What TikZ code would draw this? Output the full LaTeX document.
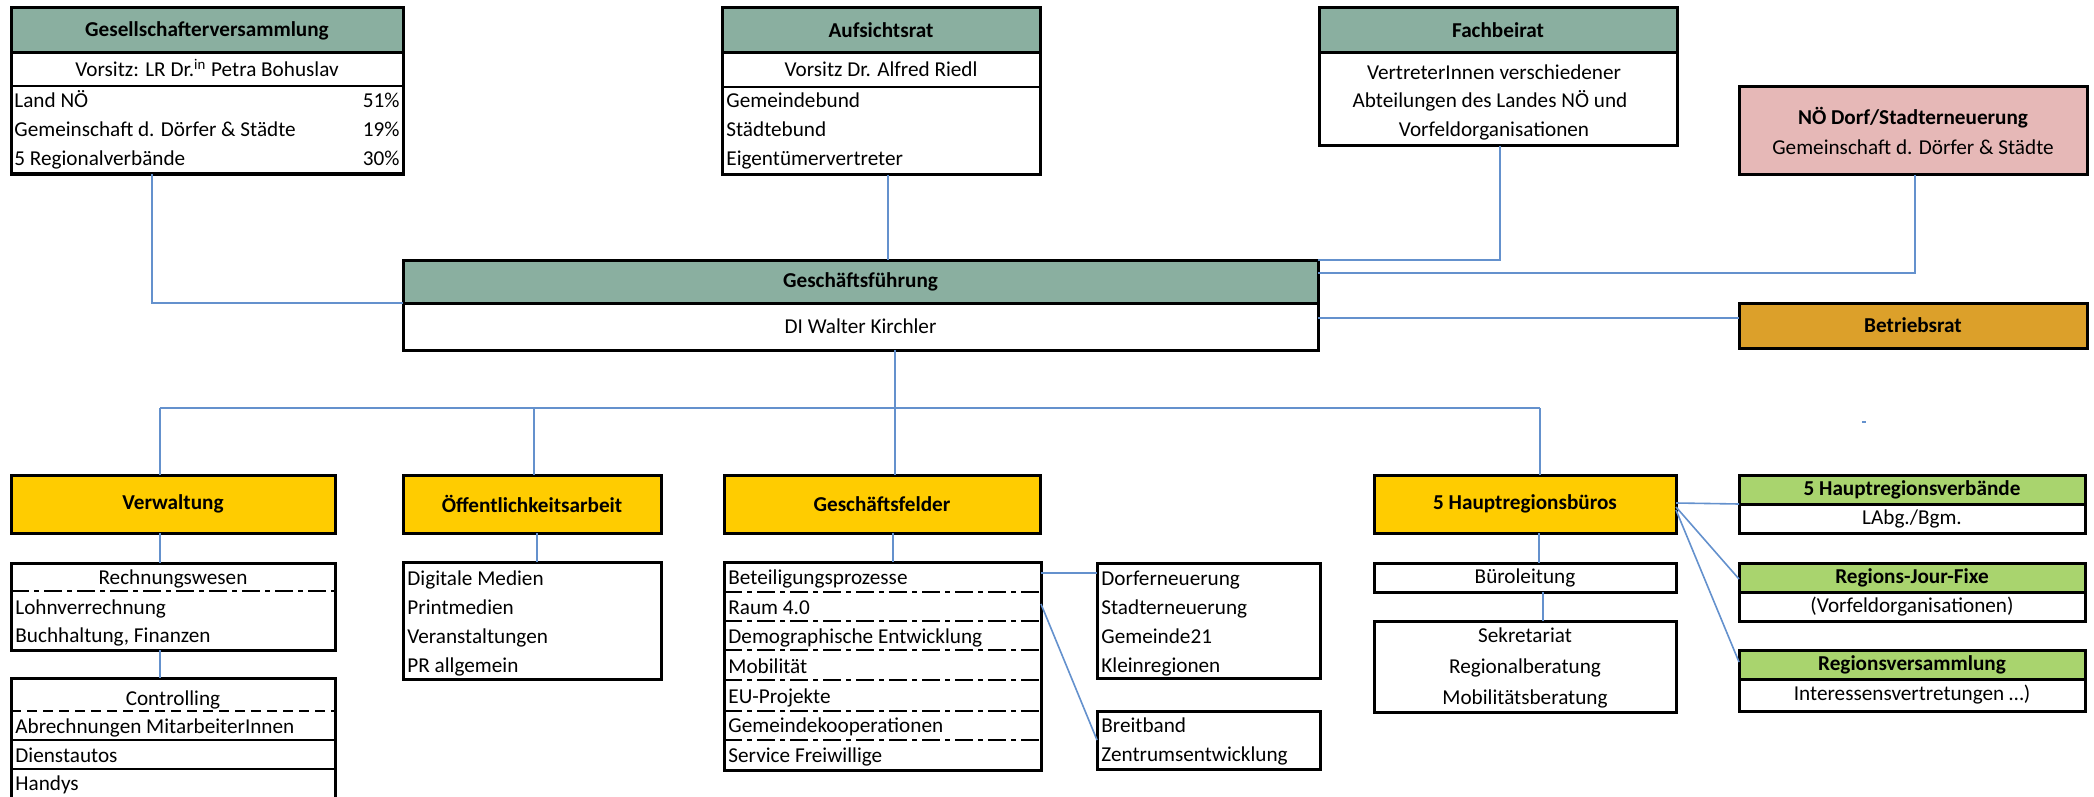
\documentclass[tikz,border=0pt]{standalone}
\usepackage{fontspec}
\setmainfont{Carlito}
\usetikzlibrary{calc}

\definecolor{headgreen}{RGB}{138,175,160}
\definecolor{rosebox}{RGB}{230,184,183}
\definecolor{amberbox}{RGB}{220,160,42}
\definecolor{yellowbox}{RGB}{255,204,0}
\definecolor{limebox}{RGB}{169,212,110}
\definecolor{linkblue}{RGB}{100,145,205}

\tikzset{
  sz/.style 2 args={minimum width=#1*0.5pt, minimum height=#2*0.5pt},
  box/.style={draw, line width=1.5pt, anchor=north west, inner sep=0pt, outer sep=0pt},
  head/.style={box, fill=headgreen, font=\fontsize{10.6}{15}\selectfont\bfseries},
  unit/.style={box, fill=yellowbox, font=\fontsize{10.6}{15}\selectfont\bfseries},
  lime/.style={box, fill=limebox, font=\fontsize{10.6}{15}\selectfont\bfseries},
  link/.style={draw=linkblue, line width=0.8pt},
  sep/.style={line width=1pt},
  dashdot/.style={line width=1.2pt, dash pattern=on 9pt off 2.5pt on 2.5pt off 2.5pt},
  lft/.style={inner sep=0pt, anchor=base west},
  rgt/.style={inner sep=0pt, anchor=base east},
  mid/.style={inner sep=0pt, anchor=base}
}

\begin{document}
\begin{tikzpicture}[x=0.5pt, y=-0.5pt, font=\fontsize{10.6}{15}\selectfont]
  \useasboundingbox (0,0) rectangle (2094,797);

  % top row
  \node[head, sz={392}{45}] (gvhead) at (11,8) {Gesellschafterversammlung};
  \node[box, sz={392}{121}] (gv) at (11,53) {};
  \draw[sep] (11,86) -- (403,86);
  \node[mid] at (207,77) {Vorsitz: LR Dr.\textsuperscript{in} Petra Bohuslav};
  \node[lft] at (14,108) {Land NÖ};
  \node[lft] at (14,137) {Gemeinschaft d. Dörfer \& Städte};
  \node[lft] at (14,166) {5 Regionalverbände};
  \node[rgt] at (400,108) {51\%};
  \node[rgt] at (400,137) {19\%};
  \node[rgt] at (400,166) {30\%};

  \node[head, sz={318}{45}] (arhead) at (722,8) {Aufsichtsrat};
  \node[box, sz={318}{122}] (ar) at (722,53) {};
  \draw[sep] (722,87) -- (1040,87);
  \node[mid] at (881,77) {Vorsitz Dr. Alfred Riedl};
  \node[lft] at (726,108) {Gemeindebund};
  \node[lft] at (726,137) {Städtebund};
  \node[lft] at (726,166) {Eigentümervertreter};

  \node[head, sz={358}{45}] (fbhead) at (1319,8) {Fachbeirat};
  \node[box, sz={358}{93}] (fb) at (1319,53) {};
  \node[mid] at (1494,80) {VertreterInnen verschiedener};
  \node[mid] at (1490,108) {Abteilungen des Landes NÖ und};
  \node[mid] at (1494,137) {Vorfeldorganisationen};

  \node[box, fill=rosebox, sz={348}{88}, align=center] (noe) at (1739,87)
    {\textbf{NÖ Dorf/Stadterneuerung}\\Gemeinschaft d. Dörfer \& Städte};

  % management
  \node[head, sz={915}{43}] (gfhead) at (403,260) {Geschäftsführung};
  \node[box, sz={915}{47}] (gf) at (403,303) {DI Walter Kirchler};
  \node[box, fill=amberbox, sz={348}{45}, font=\fontsize{10.6}{15}\selectfont\bfseries] (br) at (1739,303) {Betriebsrat};

  % departments
  \node[unit, sz={324}{58}] (verw) at (11,475) {Verwaltung};
  \node[unit, sz={258}{58}] (oeff) at (403,475) {Öffentlichkeitsarbeit};
  \node[unit, sz={316}{58}] (gfeld) at (724,475) {Geschäftsfelder};
  \node[unit, sz={302}{58}] (hrb) at (1374,475) {5 Hauptregionsbüros};

  % Verwaltung
  \node[box, sz={324}{87}] (rw) at (11,563) {};
  \draw[dashdot] (11,591) -- (335,591);
  \node[mid] at (173,584) {Rechnungswesen};
  \node[lft] at (15,614) {Lohnverrechnung};
  \node[lft] at (15,642) {Buchhaltung, Finanzen};

  \node[box, sz={324}{150}] (ctrl) at (11,678) {};
  \draw[line width=1.2pt, dash pattern=on 5pt off 3pt] (11,711) -- (335,711);
  \draw[sep] (11,740) -- (335,740);
  \draw[sep] (11,769) -- (335,769);
  \node[mid] at (173,705) {Controlling};
  \node[lft] at (15,733) {Abrechnungen MitarbeiterInnen};
  \node[lft] at (15,762) {Dienstautos};
  \node[lft] at (15,790) {Handys};

  % Oeffentlichkeitsarbeit
  \node[box, sz={258}{117}] (oeffl) at (403,562) {};
  \node[lft] at (407,585) {Digitale Medien};
  \node[lft] at (407,614) {Printmedien};
  \node[lft] at (407,643) {Veranstaltungen};
  \node[lft] at (407,672) {PR allgemein};

  % Geschaeftsfelder
  \node[box, sz={317}{208}] (gfl) at (724,562) {};
  \draw[dashdot] (724,592) -- (1041,592);
  \draw[dashdot] (724,621) -- (1041,621);
  \draw[dashdot] (724,650) -- (1041,650);
  \draw[dashdot] (724,680) -- (1041,680);
  \draw[dashdot] (724,711) -- (1041,711);
  \draw[dashdot] (724,740) -- (1041,740);
  \node[lft] at (728,584) {Beteiligungsprozesse};
  \node[lft] at (728,614) {Raum 4.0};
  \node[lft] at (728,643) {Demographische Entwicklung};
  \node[lft] at (728,673) {Mobilität};
  \node[lft] at (728,703) {EU-Projekte};
  \node[lft] at (728,732) {Gemeindekooperationen};
  \node[lft] at (728,762) {Service Freiwillige};

  \node[box, sz={223}{115}] (dorf) at (1097,563) {};
  \node[lft] at (1101,585) {Dorferneuerung};
  \node[lft] at (1101,614) {Stadterneuerung};
  \node[lft] at (1101,643) {Gemeinde21};
  \node[lft] at (1101,672) {Kleinregionen};

  \node[box, sz={223}{58}] (breit) at (1097,711) {};
  \node[lft] at (1101,732) {Breitband};
  \node[lft] at (1101,761) {Zentrumsentwicklung};

  % Hauptregionsbueros
  \node[box, sz={302}{29}] (buero) at (1374,563) {Büroleitung};
  \node[box, sz={302}{91}] (sek) at (1374,621) {};
  \node[mid] at (1525,642) {Sekretariat};
  \node[mid] at (1525,673) {Regionalberatung};
  \node[mid] at (1525,704) {Mobilitätsberatung};

  \node[lime, sz={346}{29}] (hrvhead) at (1739,475) {5 Hauptregionsverbände};
  \node[box, sz={346}{29}] (hrv) at (1739,504) {LAbg./Bgm.};
  \node[lime, sz={346}{29}] (rjfhead) at (1739,563) {Regions-Jour-Fixe};
  \node[box, sz={346}{29}] (rjf) at (1739,592) {(Vorfeldorganisationen)};
  \node[lime, sz={346}{29}] (rvhead) at (1739,650) {Regionsversammlung};
  \node[box, sz={346}{32}] (rv) at (1739,679) {Interessensvertretungen …)};

  % connectors
  \draw[link] ($(gv.south west)+(141,0)$) |- (gfhead.south west);
  \coordinate (arfoot) at ($(ar.south west)+(166,0)$);
  \draw[link] (arfoot) -- (arfoot |- gfhead.north);
  \draw[link] ($(fb.south west)+(181,0)$) |- (gfhead.north east);
  \draw[link] ($(noe.south)+(2,0)$) |- ($(gfhead.north east)+(0,13)$);
  \coordinate (brin) at ($(br.north west)+(0,15)$);
  \draw[link] (brin -| gf.east) -- (brin);

  \coordinate (bus) at ($(gf.south west)+(492,58)$);
  \coordinate (verwtop) at ($(verw.north west)+(149,0)$);
  \coordinate (oefftop) at ($(oeff.north west)+(131,0)$);
  \coordinate (gfeldtop) at ($(gfeld.north west)+(171,0)$);
  \coordinate (hrbtop) at ($(hrb.north west)+(166,0)$);
  \draw[link] (bus |- gf.south) -- (bus);
  \draw[link] (verwtop |- bus) -- (hrbtop |- bus);
  \draw[link] (verwtop |- bus) -- (verwtop);
  \draw[link] (oefftop |- bus) -- (oefftop);
  \draw[link] (gfeldtop |- bus) -- (gfeldtop);
  \draw[link] (hrbtop |- bus) -- (hrbtop);
  \fill[linkblue] (1862,421) rectangle (1866,423);

  \coordinate (verwfoot) at ($(verw.south west)+(149,0)$);
  \draw[link] (verwfoot) -- (verwfoot |- rw.north);
  \coordinate (rwfoot) at ($(rw.south west)+(149,0)$);
  \draw[link] (rwfoot) -- (rwfoot |- ctrl.north);
  \coordinate (oefffoot) at ($(oeff.south west)+(134,0)$);
  \draw[link] (oefffoot) -- (oefffoot |- oeffl.north);
  \coordinate (gfeldfoot) at ($(gfeld.south west)+(169,0)$);
  \draw[link] (gfeldfoot) -- (gfeldfoot |- gfl.north);
  \draw[link] ($(gfl.north east)+(0,11)$) -- ($(dorf.north west)+(0,10)$);
  \draw[link] ($(gfl.north east)+(0,42)$) -- ($(breit.north west)+(0,29)$);

  \coordinate (hrbfoot) at ($(hrb.south west)+(165,0)$);
  \draw[link] (hrbfoot) -- (hrbfoot |- buero.north);
  \coordinate (buerofoot) at ($(buero.south west)+(169,0)$);
  \draw[link] (buerofoot) -- (buerofoot |- sek.north);
  \draw[link] ($(hrb.north east)+(0,28)$) -- (hrvhead.south west);
  \draw[link] ($(hrb.north east)+(0,32)$) -- ($(rjfhead.south west)+(0,-13)$);
  \draw[link] ($(hrb.north east)+(0,35)$) -- ($(rvhead.south west)+(0,-17)$);
\end{tikzpicture}
\end{document}
